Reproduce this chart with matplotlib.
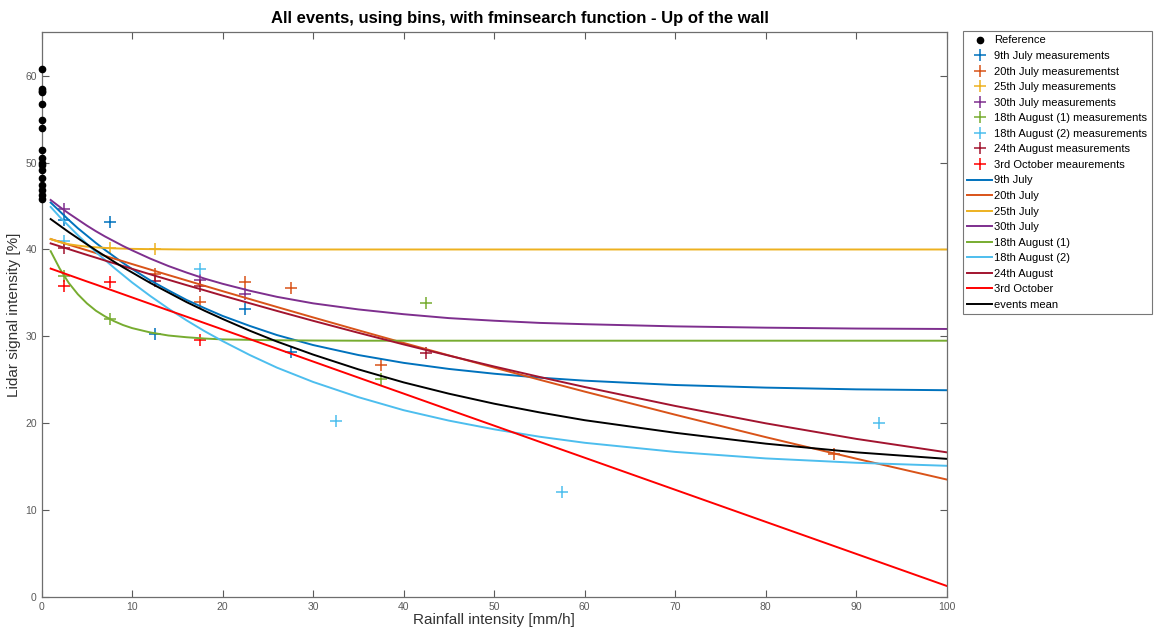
import matplotlib
matplotlib.use("Agg")
import matplotlib.pyplot as plt

plt.rcParams['font.family'] = ['Liberation Sans', 'DejaVu Sans']

# ---------------- data ----------------
ref_y = [60.8, 58.5, 58.3, 58.1, 56.8, 54.9, 54.0, 51.5, 50.5, 49.9, 49.7, 49.2,
         48.2, 47.4, 46.8, 46.3, 45.8]

meas_labels = ["9th July measurements", "20th July measurementst", "25th July measurements",
               "30th July measurements", "18th August (1) measurements",
               "18th August (2) measurements", "24th August measurements",
               "3rd October meaurements"]

m9jul_x = [2.5, 7.5, 12.5, 22.5, 27.5]
m9jul_y = [43.4, 43.2, 30.3, 33.1, 28.2]
m20jul_x = [12.5, 17.5, 22.5, 27.5, 37.5, 87.5]
m20jul_y = [37.2, 34.0, 36.3, 35.6, 26.7, 16.5]
m25jul_x = [7.5, 12.5]
m25jul_y = [40.2, 40.1]
m30jul_x = [2.5, 17.5, 22.5]
m30jul_y = [44.7, 36.5, 34.9]
m18aug1_x = [2.5, 7.5, 37.5, 42.5]
m18aug1_y = [37.0, 32.0, 25.1, 33.8]
m18aug2_x = [2.5, 17.5, 32.5, 57.5, 92.5]
m18aug2_y = [41.0, 37.8, 20.2, 12.1, 20.0]
m24aug_x = [2.5, 12.5, 17.5, 42.5]
m24aug_y = [40.2, 36.4, 35.8, 28.1]
m3oct_x = [2.5, 7.5, 17.5]
m3oct_y = [35.8, 36.2, 29.6]

curve_labels = ["9th July", "20th July", "25th July", "30th July", "18th August (1)",
                "18th August (2)", "24th August", "3rd October", "events mean"]
curve_x = [1, 2, 3, 4, 5, 6, 7, 8, 9, 10, 12, 14, 16, 18, 20, 23, 26, 30, 35, 40,
           45, 50, 55, 60, 70, 80, 90, 100]
c9jul = [45.4, 44.4, 43.4, 42.45, 41.6, 40.75, 39.95, 39.2, 38.45, 37.75, 36.45, 35.3,
         34.2, 33.25, 32.35, 31.2, 30.15, 29.0, 27.85, 26.95, 26.25, 25.7, 25.25, 24.9,
         24.4, 24.1, 23.9, 23.8]
c20jul = [41.2, 40.88, 40.55, 40.23, 39.91, 39.59, 39.27, 38.95, 38.64, 38.32, 37.69, 37.06,
          36.44, 35.82, 35.2, 34.29, 33.38, 32.18, 30.7, 29.24, 27.81, 26.4, 25.01, 23.64,
          20.98, 18.4, 15.92, 13.52]
c25jul = [41.2, 40.85, 40.6, 40.45, 40.33, 40.25, 40.18, 40.13, 40.1, 40.07, 40.04, 40.02,
          40.0, 40.0, 40.0, 40.0, 40.0, 40.0, 40.0, 40.0, 40.0, 40.0, 40.0, 40.0, 40.0,
          40.0, 40.0, 40.0]
c30jul = [45.7, 44.9, 44.15, 43.45, 42.75, 42.1, 41.5, 40.95, 40.4, 39.9, 38.95, 38.1,
          37.35, 36.65, 36.05, 35.25, 34.55, 33.8, 33.1, 32.55, 32.1, 31.8, 31.55, 31.4,
          31.15, 31.0, 30.9, 30.85]
c18aug1 = [39.8, 37.8, 36.15, 34.85, 33.8, 32.95, 32.3, 31.75, 31.3, 30.95, 30.45, 30.1,
           29.9, 29.75, 29.65, 29.6, 29.55, 29.52, 29.5, 29.5, 29.5, 29.5, 29.5, 29.5,
           29.5, 29.5, 29.5, 29.5]
c18aug2 = [44.9, 43.75, 42.7, 41.65, 40.65, 39.7, 38.8, 37.9, 37.05, 36.2, 34.65, 33.2,
           31.85, 30.6, 29.45, 27.85, 26.4, 24.75, 23.0, 21.5, 20.3, 19.3, 18.45, 17.75,
           16.7, 15.95, 15.45, 15.1]
c24aug = [40.7, 40.37, 40.04, 39.71, 39.38, 39.06, 38.73, 38.41, 38.09, 37.77, 37.14, 36.52,
          35.9, 35.3, 34.69, 33.81, 32.93, 31.79, 30.41, 29.07, 27.78, 26.53, 25.33, 24.17,
          21.99, 19.99, 18.2, 16.65]
c3oct = [37.8, 37.43, 37.06, 36.69, 36.32, 35.96, 35.59, 35.22, 34.85, 34.48, 33.74, 33.0,
         32.27, 31.53, 30.79, 29.68, 28.58, 27.1, 25.25, 23.41, 21.56, 19.72, 17.87, 16.03,
         12.34, 8.65, 4.96, 1.27]
cmean = [43.5, 42.75, 42.0, 41.3, 40.6, 39.9, 39.25, 38.6, 37.95, 37.35, 36.15, 35.05,
         33.95, 32.95, 32.0, 30.65, 29.4, 27.9, 26.2, 24.7, 23.4, 22.25, 21.25, 20.35,
         18.9, 17.65, 16.65, 15.9]

colors = ["#0072BD", "#D95319", "#EDB120", "#7E2F8E", "#77AC30", "#4DBEEE", "#A2142F", "#FF0000", "#000000"]

# ---------------- plot ----------------
fig = plt.figure(figsize=(11.56, 6.32), dpi=100)
ax = fig.add_axes([0.036, 0.0554, 0.783, 0.8935])

ax.plot([0] * len(ref_y), ref_y, 'o', color='black', markersize=4.5, linestyle='none',
        label='Reference', clip_on=False, zorder=5)

meas = [(m9jul_x, m9jul_y), (m20jul_x, m20jul_y), (m25jul_x, m25jul_y), (m30jul_x, m30jul_y),
        (m18aug1_x, m18aug1_y), (m18aug2_x, m18aug2_y), (m24aug_x, m24aug_y), (m3oct_x, m3oct_y)]
for (mx, my), lab, col in zip(meas, meas_labels, colors):
    ax.plot(mx, my, '+', color=col, markersize=9, mew=1.1, linestyle='none', label=lab)

curves = [c9jul, c20jul, c25jul, c30jul, c18aug1, c18aug2, c24aug, c3oct, cmean]
for cy, lab, col in zip(curves, curve_labels, colors):
    ax.plot(curve_x, cy, '-', color=col, lw=1.4, label=lab)

ax.set_xlim(0, 100)
ax.set_ylim(0, 65)
ax.set_xticks(range(0, 101, 10))
ax.set_yticks(range(0, 61, 10))
ax.tick_params(direction='in', top=True, right=True, labelsize=7.5, colors='#5a5a5a',
               length=5, width=0.8)
for s in ax.spines.values():
    s.set_color('#6e6e6e')
    s.set_linewidth(0.9)

ax.set_xlabel('Rainfall intensity [mm/h]', fontsize=11, color='#333333', labelpad=1)
ax.set_ylabel('Lidar signal intensity [%]', fontsize=11, color='#333333', labelpad=3)
fig.text(519.5 / 1156, 1 - 18 / 632,
         'All events, using bins, with fminsearch function - Up of the wall',
         fontsize=12, fontweight='bold', ha='center', va='center')

leg = fig.legend(loc='upper left', bbox_to_anchor=(963 / 1156, 1 - 31 / 632),
                 fontsize=8, frameon=True, fancybox=False, edgecolor='#555555',
                 labelspacing=0.5, handlelength=2.2, handletextpad=0.2,
                 borderpad=0.4, borderaxespad=0)
leg.get_frame().set_linewidth(0.8)

fig.savefig('out.png', dpi=100)
